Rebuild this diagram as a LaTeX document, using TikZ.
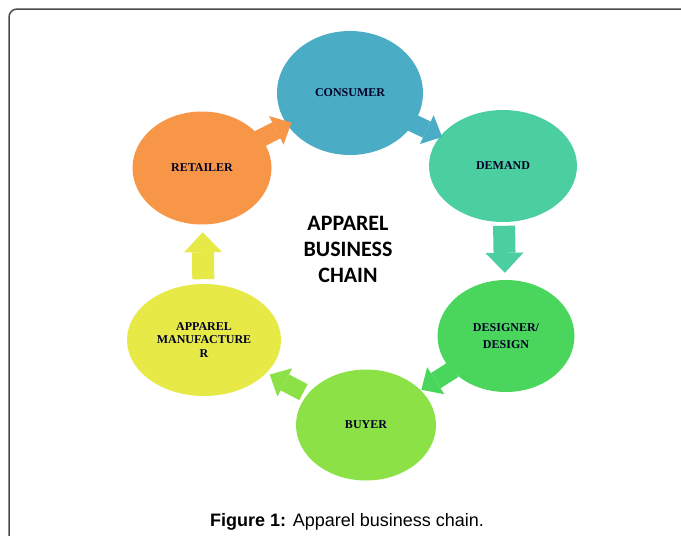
\documentclass[tikz,border=0pt]{standalone}
\usepackage{fontspec}
\setmainfont{Liberation Serif}
\newfontfamily\titlefont{Carlito}
\newfontfamily\capfont{Liberation Sans}
\usetikzlibrary{shapes.geometric,arrows.meta,calc}

\definecolor{consumerfill}{HTML}{4BACC6}
\definecolor{demandfill}{HTML}{4BCFA0}
\definecolor{designerfill}{HTML}{4AD65C}
\definecolor{buyerfill}{HTML}{8CE146}
\definecolor{makerfill}{HTML}{E6E946}
\definecolor{retailerfill}{HTML}{F79646}

\begin{document}
\begin{tikzpicture}[x=1pt, y=-1pt,
    stage/.style={ellipse, inner sep=0pt, align=center, text=black!85!blue,
        font=\fontsize{12}{13.5}\selectfont\bfseries},
    flow/.style={draw=#1, line width=22pt,
        -{Triangle[width=38pt, length=20pt, line width=0pt]}},
    straight/.style={},
    slant/.style={line width=18pt,
        -{Triangle[width=32pt, length=17pt, line width=0pt]}}]

\useasboundingbox (0,0) rectangle (681,536);

\draw[line width=1.5pt, black!70, rounded corners=8pt] (9,536) -- (9,9) -- (681,9);

\node[stage, fill=consumerfill, minimum width=146pt, minimum height=124pt] (consumer) at (350,93) {CONSUMER};
\node[stage, fill=demandfill, minimum width=148pt, minimum height=112pt] (demand) at (503,166) {DEMAND};
\node[stage, fill=designerfill, minimum width=137pt, minimum height=112pt] (designer) at (506,336) {DESIGNER/\\[3.5pt]DESIGN};
\node[stage, fill=buyerfill, minimum width=140pt, minimum height=111pt] (buyer) at (366,425) {BUYER};
\node[stage, fill=makerfill, minimum width=154pt, minimum height=112pt] (maker) at (204,340) {APPAREL\\MANUFACTURE\\R};
\node[stage, fill=retailerfill, minimum width=139pt, minimum height=113pt] (retailer) at (202,168) {RETAILER};

% block arrows between the stages
\foreach \a/\b/\k/\l/\dy in {consumer/demand/slant/19/5, demand/designer/straight/23.5/0,
        designer/buyer/slant/19/0, buyer/maker/slant/19/-6,
        maker/retailer/straight/23.5/0, retailer/consumer/slant/19/5}
    \draw[flow=\a fill, \k, yshift=\dy pt] ($(\a)!.49!(\b)!\l pt!(\a)$) -- ($(\a)!.49!(\b)!\l pt!(\b)$);

\node[font=\titlefont\bfseries\fontsize{22}{26}\selectfont, align=center] (title) at (348,249) {APPAREL\\BUSINESS\\CHAIN};

\node[anchor=base, font=\capfont\fontsize{18}{20}\selectfont] (caption) at (347,526) {\textbf{Figure 1:} Apparel business chain.};
\end{tikzpicture}
\end{document}
